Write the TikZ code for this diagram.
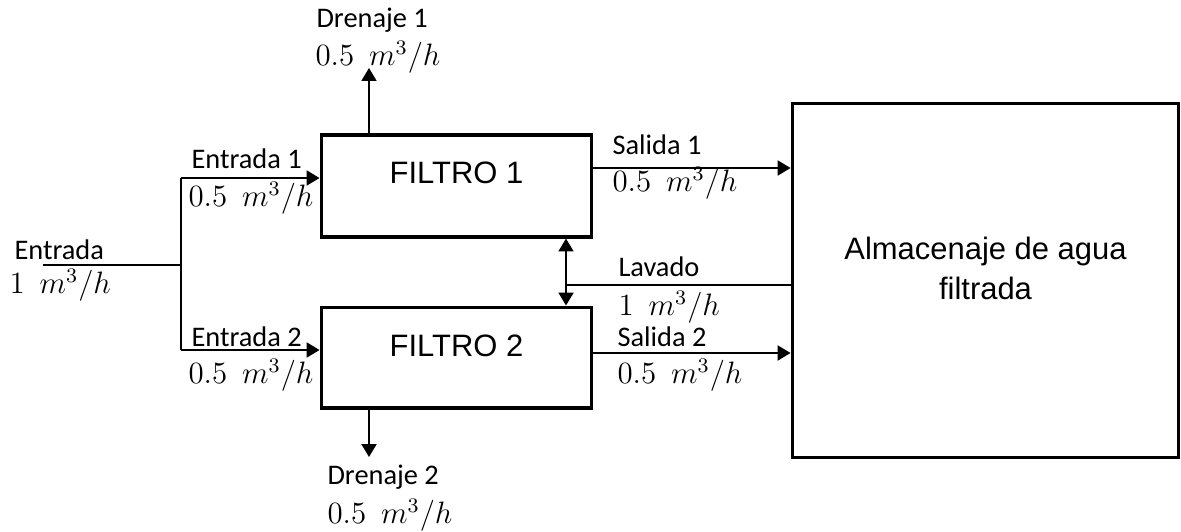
\documentclass[tikz,border=0pt]{standalone}
\usepackage{fontspec}
\setmainfont{Carlito}
\newfontfamily\arialfont{Liberation Sans}
\usetikzlibrary{arrows.meta}

\tikzset{
  caja/.style={draw, rectangle, line width=1.2pt},
  flujo/.style={line width=0.75pt},
  flecha/.style={flujo, -{Triangle[length=5pt,width=5.8pt]}},
  dobleflecha/.style={flujo, {Triangle[length=5pt,width=5.8pt]}-{Triangle[length=5pt,width=5.8pt]}},
  etiqueta/.style={anchor=west, inner sep=0pt, font=\fontsize{11}{13}\selectfont},
  caudal/.style={etiqueta, font=\fontsize{11.5}{14}\selectfont},
  titulo/.style={font=\arialfont\fontsize{12}{15.5}\selectfont, align=center},
}
\newcommand{\flujoq}[1]{$#1\enspace m^3/h$}

\begin{document}
\begin{tikzpicture}[x=0.01362cm, y=-0.01362cm]
    \useasboundingbox (0,0) rectangle (1181,531);

    % filtros y tanque
    \node[caja, minimum width=3.69cm, minimum height=1.39cm] (filtro1) at (456.5,186) {};
    \node[caja, minimum width=3.69cm, minimum height=1.375cm] (filtro2) at (456.5,357.5) {};
    \node[caja, minimum width=5.27cm, minimum height=4.835cm] (almacen) at (985.5,280.5) {};
    \node[titulo] (tf1) at (456.5,173) {FILTRO 1};
    \node[titulo] (tf2) at (456.5,346) {FILTRO 2};
    \node[titulo] (ta) at (985.5,268) {Almacenaje de agua\\filtrada};

    % puntos de paso
    \coordinate (in) at (43,265);
    \coordinate (split) at (181,265);
    \coordinate (e1) at (181,178);
    \coordinate (e2) at (181,350);
    \coordinate (d1) at (369,68);
    \coordinate (d2) at (369,457);
    \coordinate (s1) at (700,168);
    \coordinate (s2) at (700,353);
    \coordinate (lav) at (566,285);

    % entrada
    \draw[flujo] (in) -- (split);
    \draw[flujo] (e1) -- (e2);
    \draw[flecha] (e1) -- (e1 -| filtro1.west);
    \draw[flecha] (e2) -- (e2 -| filtro2.west);

    % drenajes
    \draw[flecha] (d1 |- filtro1.north) -- (d1);
    \draw[flecha] (d2 |- filtro2.south) -- (d2);

    % salidas
    \draw[flecha] (filtro1.east |- s1) -- (almacen.west |- s1);
    \draw[flecha] (filtro2.east |- s2) -- (almacen.west |- s2);

    % lavado
    \draw[flujo] (almacen.west |- lav) -- (lav);
    \draw[dobleflecha] (lav |- filtro1.south) -- (lav |- filtro2.north);

    % etiquetas
    \node[etiqueta] (l0) at (14,250) {Entrada};
    \node[caudal] (q0) at (9,285) {\flujoq{1}};
    \node[etiqueta] (l1) at (191,159) {Entrada 1};
    \node[caudal] (q1) at (188,198) {\flujoq{0.5}};
    \node[etiqueta] (l2) at (191,337) {Entrada 2};
    \node[caudal] (q2) at (188,375) {\flujoq{0.5}};
    \node[etiqueta] (ld1) at (316,20) {Drenaje 1};
    \node[caudal] (qd1) at (315,57) {\flujoq{0.5}};
    \node[etiqueta] (ld2) at (327,477) {Drenaje 2};
    \node[caudal] (qd2) at (327,515) {\flujoq{0.5}};
    \node[etiqueta] (ls1) at (612,145) {Salida 1};
    \node[caudal] (qs1) at (612,183) {\flujoq{0.5}};
    \node[etiqueta] (ls2) at (617,337) {Salida 2};
    \node[caudal] (qs2) at (617,375) {\flujoq{0.5}};
    \node[etiqueta] (ll) at (618,267) {Lavado};
    \node[caudal] (ql) at (618,307) {\flujoq{1}};
\end{tikzpicture}
\end{document}
